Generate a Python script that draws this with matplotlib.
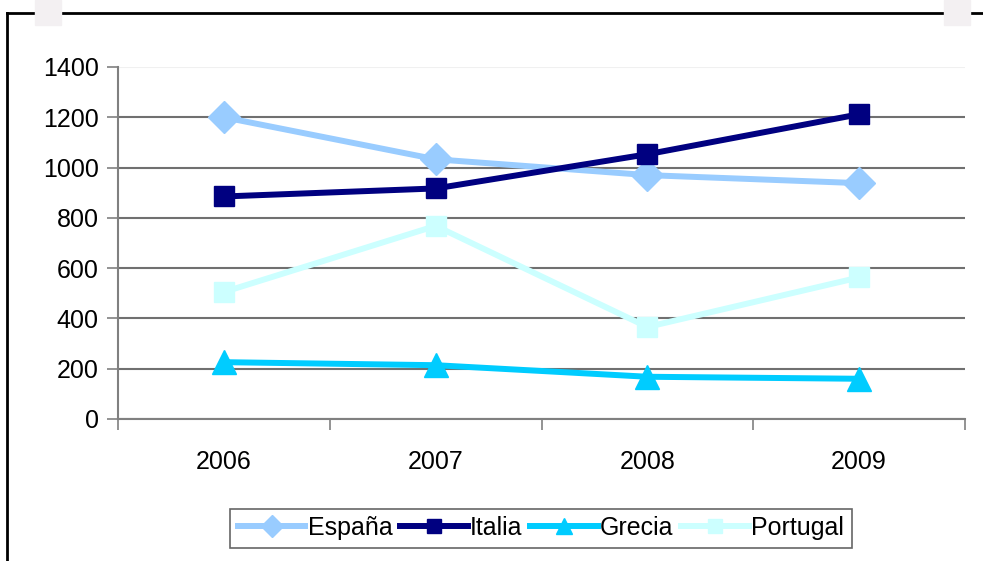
import matplotlib.pyplot as plt
from matplotlib.patches import Rectangle
from matplotlib.lines import Line2D

years = ['2006', '2007', '2008', '2009']
espana = [1200, 1033, 970, 938]
italia = [885, 917, 1053, 1212]
grecia = [226, 214, 168, 160]
portugal = [505, 768, 366, 563]

plt.rcParams['font.family'] = ['Liberation Sans', 'DejaVu Sans']

fig = plt.figure(figsize=(9.83, 5.61), dpi=100)
ax = fig.add_axes([118/983, 1 - 419/561, (965-118)/983, (419-67)/561])

x = [i + 0.5 for i in range(len(years))]
ax.plot(x, espana, color='#99ccff', lw=4.3, marker='D', ms=16, label='España', zorder=3)
ax.plot(x, italia, color='#000080', lw=4.3, marker='s', ms=15, label='Italia', zorder=3)
ax.plot(x, grecia, color='#00ccff', lw=4.3, marker='^', ms=17, label='Grecia', zorder=3)
ax.plot(x, portugal, color='#ccffff', lw=4.3, marker='s', ms=14, label='Portugal', zorder=3)

ax.set_xlim(0, len(years))
ax.set_ylim(0, 1400)
ax.set_yticks(range(0, 1401, 200))
ax.set_xticks(range(0, len(years) + 1))
ax.set_xticklabels([])
ax.set_xticks(x, minor=True)
ax.set_xticklabels(years, minor=True)
ax.tick_params(axis='x', which='minor', length=0, pad=22, labelsize=18)
ax.tick_params(axis='x', which='major', length=8, width=1.2, color='#808080', direction='out')
ax.tick_params(axis='y', length=8, width=1.2, color='#808080', labelsize=18, pad=6)

ax.yaxis.grid(True, color='#707070', lw=1.5)
ax.get_ygridlines()[-1].set_color('#f0f0f0')
ax.set_axisbelow(True)
for s in ['top', 'right']:
    ax.spines[s].set_visible(False)
ax.spines['left'].set_color('#808080')
ax.spines['bottom'].set_color('#808080')
ax.spines['left'].set_linewidth(1.5)
ax.spines['bottom'].set_linewidth(1.5)

leg = fig.legend(loc='center', bbox_to_anchor=(541/983, 1 - 528/561), ncol=4,
                 fontsize=18, frameon=True, fancybox=False, handlelength=2.7,
                 handletextpad=0.1, columnspacing=0.3, borderpad=0.3, markerscale=0.7)
leg.get_frame().set_edgecolor('#404040')
leg.get_frame().set_linewidth(1.2)

# outer chart frame and selection handles
fig.add_artist(Line2D([7/983, 7/983], [0, 1 - 13/561], color='black', lw=2, transform=fig.transFigure))
fig.add_artist(Line2D([7/983, 1], [1 - 13/561, 1 - 13/561], color='black', lw=2, transform=fig.transFigure))
for hx in [35, 944]:
    fig.add_artist(Rectangle((hx/983, 1 - 25/561), 26/983, 25/561, color='#f3f0f2',
                             transform=fig.transFigure, zorder=5))

fig.savefig('out.png', dpi=100)
